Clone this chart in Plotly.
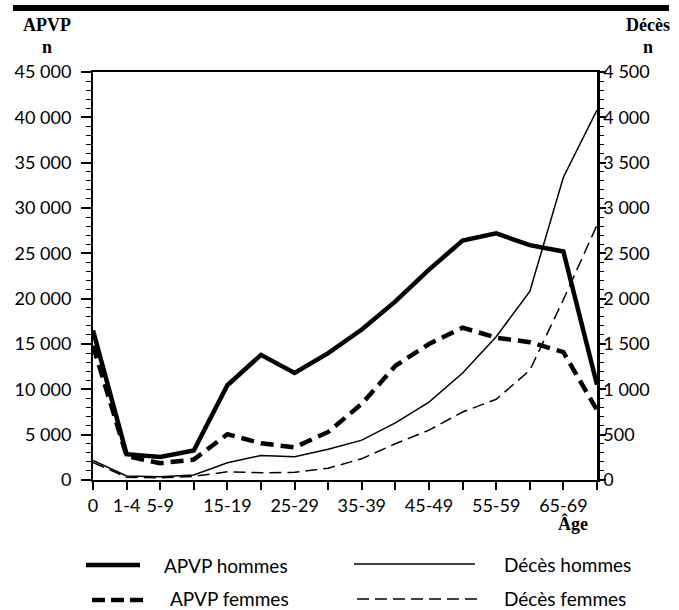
import plotly.graph_objects as go

categories = ["0", "1-4", "5-9", "10-14", "15-19", "20-24", "25-29", "30-34",
              "35-39", "40-44", "45-49", "50-54", "55-59", "60-64", "65-69", "70-74"]
tick_labels = ["0", "1-4", "5-9", "", "15-19", "", "25-29", "", "35-39", "",
               "45-49", "", "55-59", "", "65-69", ""]

apvp_hommes = [16500, 2850, 2550, 3250, 10450, 13800, 11800, 14000, 16600,
               19700, 23200, 26400, 27200, 25900, 25200, 10500]
apvp_femmes = [14800, 2650, 1850, 2250, 5050, 4050, 3600, 5300, 8400,
               12600, 15000, 16800, 15700, 15200, 14100, 7700]
deces_hommes = [215, 45, 37, 55, 190, 270, 257, 340, 440, 630, 860, 1180,
                1580, 2080, 3340, 4080]
deces_femmes = [195, 30, 25, 40, 90, 80, 85, 130, 235, 400, 550, 750, 890,
                1210, 1990, 2810]

SANS = "Lato"
SERIF = "Liberation Serif"

fig = go.Figure()
fig.add_trace(go.Scatter(x=categories, y=apvp_hommes, mode="lines",
                         line=dict(color="black", width=4.5), name="APVP hommes"))
fig.add_trace(go.Scatter(x=categories, y=apvp_femmes, mode="lines",
                         line=dict(color="black", width=4.5, dash="13px,7px"),
                         name="APVP femmes"))
fig.add_trace(go.Scatter(x=categories, y=deces_hommes, mode="lines", yaxis="y2",
                         line=dict(color="black", width=1.5), name="Décès hommes"))
fig.add_trace(go.Scatter(x=categories, y=deces_femmes, mode="lines", yaxis="y2",
                         line=dict(color="black", width=1.5, dash="12px,6px"),
                         name="Décès femmes"))

fig.update_layout(
    width=679, height=610,
    margin=dict(l=93, r=82, t=72, b=130),
    paper_bgcolor="white", plot_bgcolor="white",
    showlegend=False,
    separators=", ",
    font=dict(family=SANS, size=18, color="black"),
    xaxis=dict(
        type="category", range=[0, 15],
        tickmode="array", tickvals=categories, ticktext=tick_labels,
        ticks="outside", ticklen=8, tickwidth=1.5, tickcolor="black",
        showline=True, linecolor="black", linewidth=2, mirror=True,
        showgrid=False, zeroline=False,
        tickfont=dict(family=SANS, size=18, color="black"),
    ),
    yaxis=dict(
        range=[0, 45000], dtick=5000, tick0=0,
        ticks="outside", ticklen=10, tickwidth=1.5, tickcolor="black",
        minor=dict(dtick=1000, ticks="outside", ticklen=5, tickwidth=1, tickcolor="black"),
        showline=True, linecolor="black", linewidth=2,
        showgrid=False, zeroline=False, separatethousands=True,
        exponentformat="none", ticklabelstandoff=6,
        tickfont=dict(family=SANS, size=18, color="black"),
    ),
    yaxis2=dict(
        range=[0, 4500], dtick=500, tick0=0, overlaying="y", side="right",
        ticks="outside", ticklen=6, tickwidth=1.5, tickcolor="black",
        minor=dict(dtick=100, ticks="outside", ticklen=4, tickwidth=1, tickcolor="black"),
        showline=True, linecolor="black", linewidth=2.5,
        showgrid=False, zeroline=False, separatethousands=True,
        exponentformat="none", ticklabelstandoff=-6,
        tickfont=dict(family=SANS, size=18, color="black"),
    ),
)

def px_x(px):
    return (px - 93) / 504.0

def px_y(py):
    return (480 - py) / 408.0

shapes = [
    # top rule
    dict(type="line", xref="paper", yref="paper", x0=px_x(13), x1=px_x(669),
         y0=px_y(8), y1=px_y(8), line=dict(color="black", width=6)),
    # legend samples
    dict(type="line", xref="paper", yref="paper", x0=px_x(86), x1=px_x(140),
         y0=px_y(565), y1=px_y(565), line=dict(color="black", width=4.5)),
    dict(type="line", xref="paper", yref="paper", x0=px_x(92), x1=px_x(143),
         y0=px_y(600), y1=px_y(600), line=dict(color="black", width=4.5, dash="13px,6px")),
    dict(type="line", xref="paper", yref="paper", x0=px_x(354), x1=px_x(475),
         y0=px_y(564), y1=px_y(564), line=dict(color="black", width=1.5)),
    dict(type="line", xref="paper", yref="paper", x0=px_x(357), x1=px_x(477),
         y0=px_y(599), y1=px_y(599), line=dict(color="black", width=1.5, dash="12px,6px")),
]
fig.update_layout(shapes=shapes)

annotations = [
    dict(text="<b>APVP</b>", x=px_x(47), y=px_y(25), font=dict(family=SERIF, size=18)),
    dict(text="<b>n</b>", x=px_x(47), y=px_y(47), font=dict(family=SERIF, size=18)),
    dict(text="<b>Décès</b>", x=px_x(648), y=px_y(25), font=dict(family=SERIF, size=18)),
    dict(text="<b>n</b>", x=px_x(648), y=px_y(47), font=dict(family=SERIF, size=18)),
    dict(text="<b>Âge</b>", x=px_x(573), y=px_y(523), font=dict(family=SERIF, size=18)),
    dict(text="APVP hommes", x=px_x(162), y=px_y(565), xanchor="left",
         font=dict(family=SANS, size=19)),
    dict(text="APVP femmes", x=px_x(168), y=px_y(598), xanchor="left",
         font=dict(family=SANS, size=19)),
    dict(text="Décès hommes", x=px_x(502), y=px_y(564), xanchor="left",
         font=dict(family=SANS, size=19)),
    dict(text="Décès femmes", x=px_x(502), y=px_y(598), xanchor="left",
         font=dict(family=SANS, size=19)),
]
for a in annotations:
    a.setdefault("xanchor", "center")
    a.update(xref="paper", yref="paper", yanchor="middle", showarrow=False)
    a["font"]["color"] = "black"
fig.update_layout(annotations=annotations)

fig.write_html("out.html",
               config={"displayModeBar": False},
               post_script="document.body.style.margin='0';document.body.style.overflow='hidden';")
